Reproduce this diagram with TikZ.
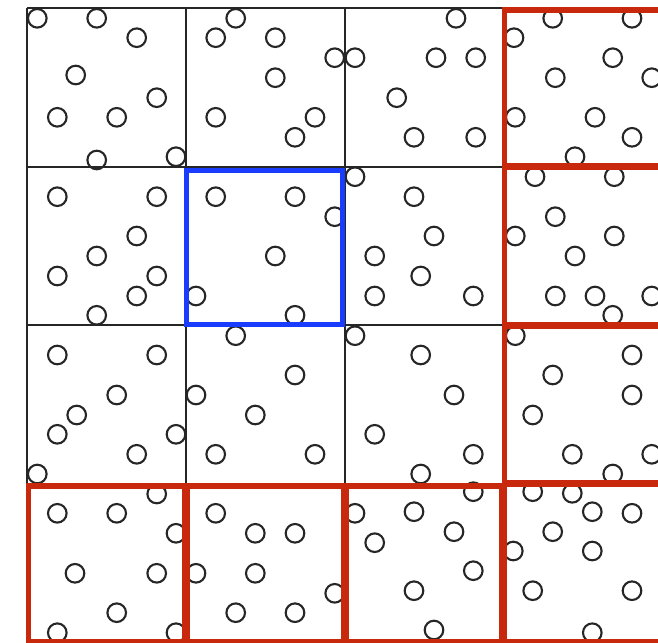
\documentclass[tikz,border=0pt]{standalone}
\definecolor{gridc}{HTML}{262626}
\definecolor{redc}{HTML}{C8280C}
\definecolor{bluec}{HTML}{1A3CFF}
\begin{document}
\begin{tikzpicture}[x=1pt,y=-1pt,
  gridline/.style={draw=gridc,line width=2},
  ball/.style={draw=gridc,line width=2.1},
  redbox/.style={draw=redc,line width=5.4},
  bluebox/.style={draw=bluec,line width=4.8}]
\useasboundingbox (0,0) rectangle (658,642);
% grid
\foreach \x in {27,186,345,503.5} \draw[gridline] (\x,8) -- (\x,642);
\foreach \y in {8,166.7,325,483.5} \draw[gridline] (27,\y) -- (662,\y);
% circles
\foreach \x/\y in {
 37.3/18.3, 96.7/18.3, 136.7/37.7, 75.7/75, 156.7/97.7, 57.3/117.3, 116.7/117.3, 96.7/160, 176/156.7,
 235.7/18.3, 215.7/37.7, 275.3/37.7, 334.7/57.7, 275.3/77.7, 215.7/117.3, 315/117.3, 295/137.3,
 57.3/196.7, 156.7/196.7, 136.7/236, 96.7/256, 57.3/276, 156.7/276, 136.7/296, 96.7/315.3,
 215.7/196.7, 295/196.7, 334.7/216.7, 275.3/256, 196/296, 295/315.3,
 355/57.7, 456/18.3, 436/57.7, 475.7/57.7, 396.7/97.7, 414/137.3, 475.7/137.3,
 514/37.7, 552.7/18.3, 632/18.3, 612.7/57.7, 555.3/77.7, 651.7/77.7, 515.3/117.3, 595/117.3, 632/137.3, 575/156.7,
 355/176.7, 414/196.7, 434/236, 374.7/256, 420.7/276, 374.7/296, 473.3/296,
 535/176.7, 614.3/176.7, 555.3/216.7, 515.3/236, 614.3/236, 575/256, 555.3/296, 595/296, 651.7/296, 612.7/315.3,
 57.3/355, 156.7/355, 116.7/395, 76.7/415, 57.3/434.3, 176/434.3, 136.7/454.3, 37.3/474,
 235.7/335.7, 295/375, 196/395, 255.3/415, 215.7/454.3, 315/454.3,
 57.3/513.3, 116.7/513.3, 156.7/494, 176/533.3, 75/573.3, 156.7/573.3, 116.7/612.7, 57.3/632.7, 176/632.7,
 215.7/513.3, 255.3/533.3, 295/533.3, 196/573.3, 255.3/573.3, 334.7/593.3, 235.7/612.7, 295/612.7,
 355/335.7, 420.7/355, 454/395, 374.7/434.3, 473.3/454.3, 420.7/474,
 515.3/335.7, 632/355, 552.7/375, 632/395, 532.7/415, 572.3/454.3, 651.7/454.3, 612.7/474,
 473.3/491.7, 355/513.3, 414/511.7, 454/531.7, 374.7/542.7, 473.3/570.7, 414/590.7, 434/630,
 532.7/491.7, 572.3/493.3, 592.3/511.7, 632/513.3, 552.7/531.7, 513.3/551, 592.3/551, 532.7/590.7, 632/590.7, 592.3/632.7}
  \draw[ball] (\x,\y) circle[radius=9.3];
% red boxes
\draw[redbox] (504.3,10.2) rectangle (661.4,165.8);
\draw[redbox] (504.3,167.6) rectangle (661.4,324.2);
\draw[redbox] (504.3,325.8) rectangle (661.4,482.7);
\draw[redbox] (504.3,484.6) rectangle (661.4,641.3);
\draw[redbox] (28.4,486) rectangle (184.2,641.3);
\draw[redbox] (187.2,486) rectangle (343.4,641.3);
\draw[redbox] (346,486) rectangle (501.9,641.3);
% blue box
\draw[bluebox] (186.5,170.5) rectangle (342.5,324.5);
\end{tikzpicture}
\end{document}
